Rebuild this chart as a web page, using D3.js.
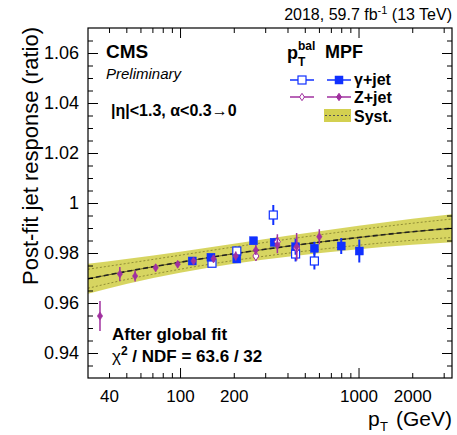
<!DOCTYPE html>
<html>
<head>
<meta charset="utf-8">
<script src="https://cdn.jsdelivr.net/npm/d3@7"></script>
<style>
  html, body { margin: 0; padding: 0; background: #fff; }
  svg { display: block; font-family: "Liberation Sans", Arial, Helvetica, sans-serif; }
</style>
</head>
<body>
<div id="chart"></div>
<script>
// fitted response curve and its systematic band (pT in GeV)
const fitPt      = [30.5, 50, 100, 200, 400, 1000, 2000, 3340];
const fitCentral = [0.9697, 0.9726, 0.9763, 0.9797, 0.9827, 0.9862, 0.9885, 0.9899];
const fitSyst    = [0.0060, 0.0050, 0.0042, 0.0040, 0.0042, 0.0047, 0.0052, 0.0056];
const fitInner   = [0.0038, 0.0032, 0.0028, 0.0027, 0.0028, 0.0031, 0.0034, 0.0037];

// gamma+jet, MPF method
const gammaMpf = [
    { pt: 117, r: 0.9768, e: 0.0010 },
    { pt: 149, r: 0.9783, e: 0.0010 },
    { pt: 208, r: 0.9776, e: 0.0012 },
    { pt: 258, r: 0.9849, e: 0.0015 },
    { pt: 337, r: 0.9843, e: 0.0016 },
    { pt: 444, r: 0.9825, e: 0.0032 },
    { pt: 566, r: 0.9819, e: 0.0026 },
    { pt: 800, r: 0.9828, e: 0.0032 },
    { pt: 1010, r: 0.9808, e: 0.0046 }
];

// gamma+jet, pT balance
const gammaBal = [
    { pt: 151, r: 0.9759, e: 0.0010 },
    { pt: 208, r: 0.9808, e: 0.0012 },
    { pt: 333, r: 0.9952, e: 0.0040 },
    { pt: 444, r: 0.9796, e: 0.0030 },
    { pt: 566, r: 0.9768, e: 0.0034 }
];

// Z+jet, MPF method
const zMpf = [
    { pt: 35.6, r: 0.9548, e: 0.0060 },
    { pt: 46, r: 0.9716, e: 0.0028 },
    { pt: 56, r: 0.9708, e: 0.0022 },
    { pt: 73, r: 0.9741, e: 0.0015 },
    { pt: 97, r: 0.9755, e: 0.0013 },
    { pt: 119, r: 0.9768, e: 0.0013 },
    { pt: 154, r: 0.9777, e: 0.0015 },
    { pt: 205, r: 0.9788, e: 0.0018 },
    { pt: 266, r: 0.9812, e: 0.0020 },
    { pt: 351, r: 0.9832, e: 0.0033 },
    { pt: 450, r: 0.9825, e: 0.0055 },
    { pt: 603, r: 0.9865, e: 0.0030 }
];

// Z+jet, pT balance
const zBal = [
    { pt: 266, r: 0.9788, e: 0.0020 },
    { pt: 351, r: 0.9845, e: 0.0030 },
    { pt: 450, r: 0.9820, e: 0.0045 }
];

// axis ticks
const xMajorTicks = [100, 1000];
const xMinorTicks = [40, 50, 60, 70, 80, 90, 200, 300, 400, 500, 600, 700, 800, 900, 2000, 3000];
const xTickLabels = [40, 100, 200, 1000, 2000];
const yMajorTicks = [0.94, 0.96, 0.98, 1.0, 1.02, 1.04, 1.06];
const yMinorTicks = [0.935, 0.945, 0.95, 0.955, 0.965, 0.97, 0.975, 0.985, 0.99, 0.995,
                     1.005, 1.01, 1.015, 1.025, 1.03, 1.035, 1.045, 1.05, 1.055, 1.065];

const W = 457, H = 435;
const plot = { left: 88, right: 452, top: 28, bottom: 378 };

const colors = {
    gamma: '#1030ff',
    z: '#a0309f',
    band: '#d3d050',
    line: '#222'
};

const svg = d3.select('#chart').append('svg')
    .attr('width', W)
    .attr('height', H);

const x = d3.scaleLog().domain([30.5, 3340]).range([plot.left, plot.right]);
const y = d3.scaleLinear().domain([0.93, 1.07]).range([plot.bottom, plot.top]);

svg.append('defs').append('clipPath')
    .attr('id', 'plot-clip')
    .append('rect')
    .attr('x', plot.left).attr('y', plot.top)
    .attr('width', plot.right - plot.left)
    .attr('height', plot.bottom - plot.top);

const area = svg.append('g').attr('clip-path', 'url(#plot-clip)');
const idx = d3.range(fitPt.length);

// systematic band
area.append('path')
    .attr('d', d3.area()
        .x(i => x(fitPt[i]))
        .y0(i => y(fitCentral[i] - fitSyst[i]))
        .y1(i => y(fitCentral[i] + fitSyst[i]))
        .curve(d3.curveMonotoneX)(idx))
    .attr('fill', colors.band)
    .attr('opacity', 0.9);

// inner dotted envelope
[-1, 1].forEach(s => {
    area.append('path')
        .attr('d', d3.line()
            .x(i => x(fitPt[i]))
            .y(i => y(fitCentral[i] + s * fitInner[i]))
            .curve(d3.curveMonotoneX)(idx))
        .attr('fill', 'none')
        .attr('stroke', '#7d7a2a')
        .attr('stroke-width', 0.8)
        .attr('stroke-dasharray', '2,2');
});

// central fit line
const centralLine = d3.line()
    .x(i => x(fitPt[i]))
    .y(i => y(fitCentral[i]))
    .curve(d3.curveMonotoneX);

area.append('path')
    .attr('d', centralLine(idx))
    .attr('fill', 'none')
    .attr('stroke', '#6a6520')
    .attr('stroke-width', 1);

area.append('path')
    .attr('d', centralLine(idx))
    .attr('fill', 'none')
    .attr('stroke', colors.line)
    .attr('stroke-width', 1.6)
    .attr('stroke-dasharray', '5,3');

// diamond marker, taller than wide
const diamond = {
    draw(ctx, size) {
        const w = Math.sqrt(size) * 0.5, h = w * 1.5;
        ctx.moveTo(0, -h);
        ctx.lineTo(w, 0);
        ctx.lineTo(0, h);
        ctx.lineTo(-w, 0);
        ctx.closePath();
    }
};

function drawErrors(g, data, color, width) {
    g.selectAll('.err')
        .data(data)
        .enter()
        .append('line')
        .attr('class', 'err')
        .attr('x1', d => x(d.pt))
        .attr('x2', d => x(d.pt))
        .attr('y1', d => y(d.r - d.e))
        .attr('y2', d => y(d.r + d.e))
        .attr('stroke', color)
        .attr('stroke-width', width);
}

function drawSquares(g, data, filled) {
    g.selectAll('.sq')
        .data(data)
        .enter()
        .append('rect')
        .attr('class', 'sq')
        .attr('x', d => x(d.pt) - 4)
        .attr('y', d => y(d.r) - 4)
        .attr('width', 8)
        .attr('height', 8)
        .attr('fill', filled ? colors.gamma : '#fff')
        .attr('stroke', colors.gamma)
        .attr('stroke-width', filled ? 0.5 : 1.2);
}

function drawDiamonds(g, data, filled) {
    g.selectAll('.dm')
        .data(data)
        .enter()
        .append('path')
        .attr('class', 'dm')
        .attr('transform', d => `translate(${x(d.pt)},${y(d.r)})`)
        .attr('d', d3.symbol(diamond, filled ? 30 : 36)())
        .attr('fill', filled ? colors.z : '#fff')
        .attr('stroke', colors.z)
        .attr('stroke-width', filled ? 0.5 : 1);
}

const gBal = area.append('g');
drawErrors(gBal, gammaBal, colors.gamma, 2);
drawSquares(gBal, gammaBal, false);

const gMpf = area.append('g');
drawErrors(gMpf, gammaMpf, colors.gamma, 2);
drawSquares(gMpf, gammaMpf, true);

const zb = area.append('g');
drawErrors(zb, zBal, colors.z, 1.5);
drawDiamonds(zb, zBal, false);

const zm = area.append('g');
drawErrors(zm, zMpf, colors.z, 1.5);
drawDiamonds(zm, zMpf, true);

// axes: ticks point inward on all four sides
function tickAxis(axis, values, len) {
    return axis.tickValues(values).tickSize(-len).tickFormat('');
}

const axes = svg.append('g').attr('class', 'axes');

[[d3.axisBottom, plot.bottom], [d3.axisTop, plot.top]].forEach(([fn, pos]) => {
    axes.append('g').attr('transform', `translate(0,${pos})`)
        .call(tickAxis(fn(x), xMajorTicks, 10));
    axes.append('g').attr('transform', `translate(0,${pos})`)
        .call(tickAxis(fn(x), xMinorTicks, 5));
});

[[d3.axisLeft, plot.left], [d3.axisRight, plot.right]].forEach(([fn, pos]) => {
    axes.append('g').attr('transform', `translate(${pos},0)`)
        .call(tickAxis(fn(y), yMajorTicks, 10));
    axes.append('g').attr('transform', `translate(${pos},0)`)
        .call(tickAxis(fn(y), yMinorTicks, 5));
});

axes.selectAll('.domain').remove();
axes.selectAll('.tick line').attr('stroke', '#000').attr('stroke-width', 1);

// tick labels
const xLabels = svg.append('g')
    .attr('transform', `translate(0,${plot.bottom})`)
    .call(d3.axisBottom(x).tickValues(xTickLabels).tickSize(0).tickPadding(12).tickFormat(d3.format('d')));
xLabels.select('.domain').remove();
xLabels.selectAll('text')
    .attr('font-size', 17)
    .attr('font-family', '"Liberation Sans", Arial, sans-serif')
    .attr('fill', '#000');

const yLabels = svg.append('g')
    .attr('transform', `translate(${plot.left},0)`)
    .call(d3.axisLeft(y).tickValues(yMajorTicks).tickSize(0).tickPadding(9)
        .tickFormat(d => d === 1 ? '1' : d3.format('.2f')(d)));
yLabels.select('.domain').remove();
yLabels.selectAll('text')
    .attr('font-size', 18)
    .attr('font-family', '"Liberation Sans", Arial, sans-serif')
    .attr('fill', '#000');

// frame
svg.append('rect')
    .attr('x', plot.left).attr('y', plot.top)
    .attr('width', plot.right - plot.left)
    .attr('height', plot.bottom - plot.top)
    .attr('fill', 'none')
    .attr('stroke', '#000')
    .attr('stroke-width', 1.2);

// axis titles
svg.append('text')
    .attr('transform', 'translate(38,27) rotate(-90)')
    .attr('text-anchor', 'end')
    .attr('font-size', 22)
    .text('Post-fit jet response (ratio)');

svg.append('text')
    .attr('x', 368).attr('y', 426)
    .attr('font-size', 21)
    .text('p');
svg.append('text')
    .attr('x', 380).attr('y', 431)
    .attr('font-size', 13)
    .text('T');
svg.append('text')
    .attr('x', 452).attr('y', 426)
    .attr('text-anchor', 'end')
    .attr('font-size', 21)
    .text('(GeV)');

// lumi label
const lumi = svg.append('text')
    .attr('x', 452).attr('y', 20)
    .attr('text-anchor', 'end')
    .attr('font-size', 16);
lumi.append('tspan').text('2018, 59.7 fb');
lumi.append('tspan').attr('font-size', 11).attr('dy', -6).text('-1');
lumi.append('tspan').attr('dy', 6).text(' (13 TeV)');

// CMS label
svg.append('text')
    .attr('x', 106).attr('y', 58)
    .attr('font-size', 19).attr('font-weight', 'bold')
    .text('CMS');
svg.append('text')
    .attr('x', 106).attr('y', 79)
    .attr('font-size', 15).attr('font-style', 'italic')
    .text('Preliminary');
svg.append('text')
    .attr('x', 111).attr('y', 116)
    .attr('font-size', 16).attr('font-weight', 'bold')
    .text('|η|<1.3, α<0.3→0');

// fit summary
svg.append('text')
    .attr('x', 112).attr('y', 340)
    .attr('font-size', 17).attr('font-weight', 'bold')
    .text('After global fit');
const chi = svg.append('text')
    .attr('x', 112).attr('y', 362)
    .attr('font-size', 17).attr('font-weight', 'bold');
chi.append('tspan').attr('font-weight', 'normal').text('χ');
chi.append('tspan').attr('font-size', 12).attr('dy', -7).text('2');
chi.append('tspan').attr('dy', 7).text(' / NDF = 63.6 / 32');

// legend
const legend = svg.append('g').attr('font-weight', 'bold');
legend.append('text').attr('x', 287).attr('y', 59).attr('font-size', 18).text('p');
legend.append('text').attr('x', 298).attr('y', 50).attr('font-size', 12).text('bal');
legend.append('text').attr('x', 298).attr('y', 66).attr('font-size', 12).text('T');
legend.append('text').attr('x', 325).attr('y', 58).attr('font-size', 18).text('MPF');

const rows = [
    { label: 'γ+jet', y: 80, base: 85, color: colors.gamma, marker: 'square' },
    { label: 'Z+jet', y: 97, base: 103, color: colors.z, marker: 'diamond' }
];

rows.forEach(row => {
    [[302, false], [339, true]].forEach(([cx, filled]) => {
        legend.append('line')
            .attr('x1', cx - 12).attr('x2', cx + 12)
            .attr('y1', row.y).attr('y2', row.y)
            .attr('stroke', row.color)
            .attr('stroke-width', 1.5);
        if (row.marker === 'square') {
            legend.append('rect')
                .attr('x', cx - 4).attr('y', row.y - 4)
                .attr('width', 8).attr('height', 8)
                .attr('fill', filled ? row.color : '#fff')
                .attr('stroke', row.color)
                .attr('stroke-width', filled ? 0.5 : 1.2);
        } else {
            legend.append('path')
                .attr('transform', `translate(${cx},${row.y})`)
                .attr('d', d3.symbol(diamond, 24)())
                .attr('fill', filled ? row.color : '#fff')
                .attr('stroke', row.color)
                .attr('stroke-width', 1);
        }
    });
    legend.append('text')
        .attr('x', 354).attr('y', row.base)
        .attr('font-size', 16)
        .text(row.label);
});

legend.append('rect')
    .attr('x', 324).attr('y', 109)
    .attr('width', 27).attr('height', 13)
    .attr('fill', colors.band);
legend.append('line')
    .attr('x1', 325).attr('x2', 350)
    .attr('y1', 115.5).attr('y2', 115.5)
    .attr('stroke', '#555')
    .attr('stroke-width', 1)
    .attr('stroke-dasharray', '2,2');
legend.append('text')
    .attr('x', 354).attr('y', 122)
    .attr('font-size', 16)
    .text('Syst.');
</script>
</body>
</html>
